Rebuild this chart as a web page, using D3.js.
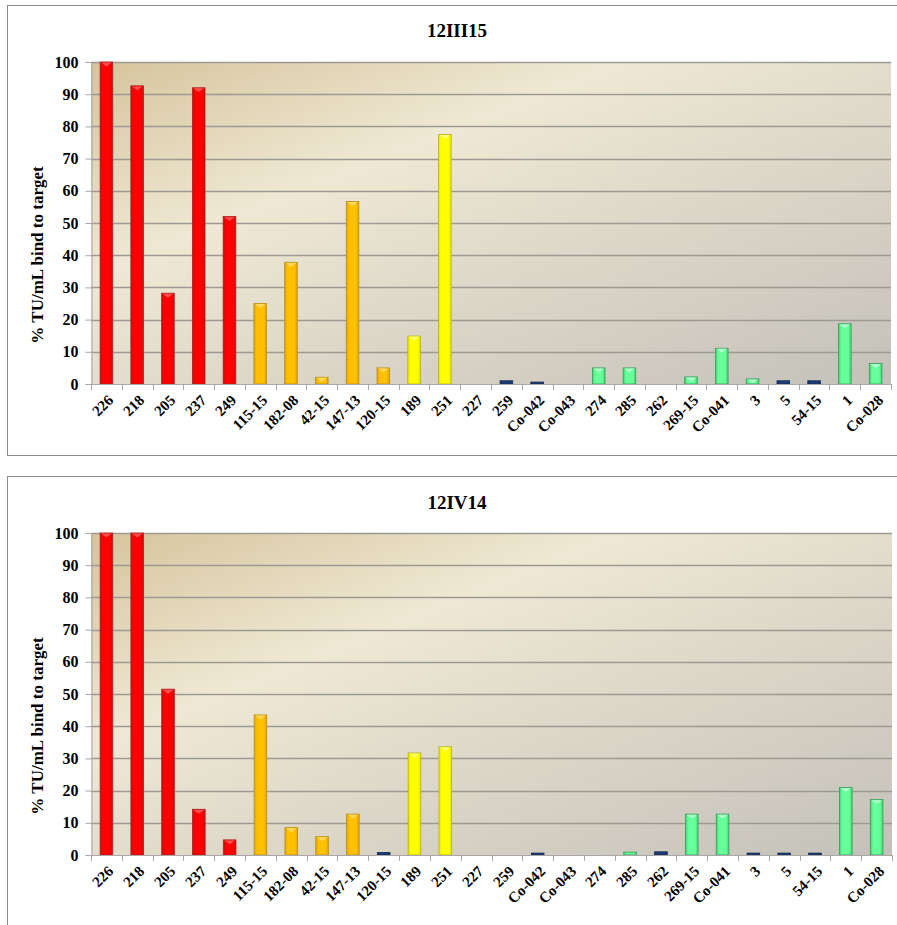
<!DOCTYPE html>
<html>
<head>
<meta charset="utf-8">
<script src="https://cdn.jsdelivr.net/npm/d3@7"></script>
<style>
  html, body { margin: 0; padding: 0; background: #ffffff; }
  #wrap { position: relative; width: 897px; height: 925px; overflow: hidden; }
  svg { display: block; position: absolute; left: 0; top: 0; }
  text { font-family: "Liberation Serif", "Times New Roman", serif; font-weight: bold; fill: #000; }
  .xlab { position: absolute; white-space: nowrap; font-family: "Liberation Serif", "Times New Roman", serif;
          font-weight: bold; font-size: 15px; line-height: 15px; color: #000;
          transform-origin: 100% 50%; transform: translate(-100%, -50%) rotate(-45deg); }
</style>
</head>
<body>
<div id="wrap"><svg id="chart" width="897" height="925"></svg></div>
<script>
// ---------------- DATA ----------------
const categories = ["226", "218", "205", "237", "249", "115-15", "182-08", "42-15", "147-13", "120-15",
  "189", "251", "227", "259", "Co-042", "Co-043", "274", "285", "262", "269-15", "Co-041",
  "3", "5", "54-15", "1", "Co-028"];

const titles = ["12III15", "12IV14"];

const values12III15 = [100, 92.6, 28.2, 92.0, 52.0, 25.0, 37.8, 2.1, 56.7, 5.0,
  14.9, 77.5, 0, 1.0, 0.6, 0, 5.0, 5.0, 0, 2.2, 11.1,
  1.6, 1.0, 1.0, 18.7, 6.4];

const groups12III15 = ["red", "red", "red", "red", "red", "orange", "orange", "orange", "orange", "orange",
  "yellow", "yellow", "blue", "blue", "blue", "blue", "green", "green", "blue", "green", "green",
  "green", "blue", "blue", "green", "green"];

const values12IV14 = [100, 100, 51.5, 14.2, 4.7, 43.5, 8.5, 5.7, 12.7, 0.8,
  31.7, 33.6, 0, 0, 0.6, 0, 0, 0.9, 1.0, 12.7, 12.7,
  0.6, 0.6, 0.6, 21.0, 17.2];

const groups12IV14 = ["red", "red", "red", "red", "red", "orange", "orange", "orange", "orange", "blue",
  "yellow", "yellow", "blue", "blue", "blue", "blue", "blue", "green", "blue", "green", "green",
  "blue", "blue", "blue", "green", "green"];

const yTicks = [0, 10, 20, 30, 40, 50, 60, 70, 80, 90, 100];
const yAxisTitle = "% TU/mL bind to target";

// ---------------- STYLES ----------------
const palette = {
  red:    { base: "#ff0000", dark: "#c41010", light: "#ff6a6a", stroke: "#b02020" },
  orange: { base: "#ffc000", dark: "#e0a000", light: "#ffe080", stroke: "#b8901a" },
  yellow: { base: "#ffff00", dark: "#e2e200", light: "#ffff99", stroke: "#b8b020" },
  green:  { base: "#66ff99", dark: "#40d070", light: "#c8ffe0", stroke: "#3a9a5a" },
  blue:   { base: "#1f3d7a", dark: "#17305f", light: "#3c5c9c", stroke: "#132850" }
};

const wrap = d3.select("#wrap");
const svg = d3.select("#chart");
const defs = svg.append("defs");

// plot background gradient
const bg = defs.append("linearGradient").attr("id", "plotBg")
  .attr("x1", 0).attr("y1", 0).attr("x2", 1).attr("y2", 1);
bg.append("stop").attr("offset", "0%").attr("stop-color", "#d6c49c");
bg.append("stop").attr("offset", "33%").attr("stop-color", "#efe8d4");
bg.append("stop").attr("offset", "60%").attr("stop-color", "#dcd7c8");
bg.append("stop").attr("offset", "100%").attr("stop-color", "#c4c1ba");

Object.entries(palette).forEach(([k, p]) => {
  const g = defs.append("linearGradient").attr("id", "bar-" + k)
    .attr("x1", 0).attr("y1", 0).attr("x2", 1).attr("y2", 0);
  g.append("stop").attr("offset", "0%").attr("stop-color", p.dark);
  g.append("stop").attr("offset", "22%").attr("stop-color", p.base);
  g.append("stop").attr("offset", "78%").attr("stop-color", p.base);
  g.append("stop").attr("offset", "100%").attr("stop-color", p.dark);
});

const charts = [
  { title: titles[0], values: values12III15, groups: groups12III15,
    frameY: 5.5, frameH: 450, titleY: 37, plot: { x0: 91, x1: 891, y0: 62, y1: 384 }, axisTitleCY: 255 },
  { title: titles[1], values: values12IV14, groups: groups12IV14,
    frameY: 476.5, frameH: 460, titleY: 509, plot: { x0: 91, x1: 892, y0: 533, y1: 855 }, axisTitleCY: 726 }
];

charts.forEach(c => {
  const g = svg.append("g");
  // frame
  g.append("rect").attr("x", 7.5).attr("y", c.frameY).attr("width", 900).attr("height", c.frameH)
    .attr("fill", "#ffffff").attr("stroke", "#8c8c8c").attr("stroke-width", 1);

  const x = d3.scaleBand().domain(categories).range([c.plot.x0, c.plot.x1])
    .paddingInner(0.59).paddingOuter(0.295);
  const y = d3.scaleLinear().domain([0, 100]).range([c.plot.y1, c.plot.y0]);

  // plot area
  g.append("rect").attr("x", c.plot.x0).attr("y", c.plot.y0)
    .attr("width", c.plot.x1 - c.plot.x0).attr("height", c.plot.y1 - c.plot.y0)
    .attr("fill", "url(#plotBg)");

  // gridlines
  g.append("g").selectAll("line").data(yTicks.filter(t => t > 0)).join("line")
    .attr("x1", c.plot.x0).attr("x2", c.plot.x1)
    .attr("y1", d => Math.round(y(d)) + 0.5).attr("y2", d => Math.round(y(d)) + 0.5)
    .attr("stroke", "#9d9a94").attr("stroke-width", 1.3);

  // y axis
  const yAxis = d3.axisLeft(y).tickValues(yTicks).tickSize(6).tickPadding(7).tickFormat(d3.format("d"));
  const ya = g.append("g").attr("transform", `translate(${c.plot.x0 + 0.5},0)`).call(yAxis);
  ya.select(".domain").attr("stroke", "#a8a8a8");
  ya.selectAll(".tick line").attr("stroke", "#a8a8a8");
  ya.selectAll(".tick text").style("font-size", "16px").style("font-family", "Liberation Serif, serif")
    .style("font-weight", "bold").attr("fill", "#000");

  // bars
  const bars = g.append("g");
  const data = categories.map((cat, i) => ({ cat, v: c.values[i], grp: c.groups[i] })).filter(d => d.v > 0);
  bars.selectAll("rect").data(data).join("rect")
    .attr("x", d => x(d.cat))
    .attr("y", d => y(d.v))
    .attr("width", x.bandwidth())
    .attr("height", d => y(0) - y(d.v))
    .attr("fill", d => `url(#bar-${d.grp})`)
    .attr("stroke", d => palette[d.grp].stroke)
    .attr("stroke-width", 0.8);
  // bevel highlight at top
  bars.selectAll("path").data(data.filter(d => y(0) - y(d.v) > 5)).join("path")
    .attr("d", d => {
      const x0 = x(d.cat), w = x.bandwidth(), t = y(d.v);
      return `M${x0 + 1},${t + 0.6} L${x0 + w - 1},${t + 0.6} L${x0 + w / 2},${t + 4.5} Z`;
    })
    .attr("fill", d => palette[d.grp].light).attr("opacity", 0.75);

  // x axis
  const xAxisLine = g.append("g");
  xAxisLine.append("line").attr("x1", c.plot.x0).attr("x2", c.plot.x1)
    .attr("y1", c.plot.y1 + 0.5).attr("y2", c.plot.y1 + 0.5).attr("stroke", "#a8a8a8");
  const boundaries = d3.range(categories.length + 1);
  xAxisLine.selectAll("line.tk").data(boundaries).join("line").attr("class", "tk")
    .attr("x1", i => Math.round(c.plot.x0 + i * x.step()) + 0.5)
    .attr("x2", i => Math.round(c.plot.x0 + i * x.step()) + 0.5)
    .attr("y1", c.plot.y1).attr("y2", c.plot.y1 + 6).attr("stroke", "#a8a8a8");

  // rotated category labels (-45 degrees), HTML overlay
  wrap.selectAll(null).data(categories).enter().append("div")
    .attr("class", "xlab")
    .style("left", d => (x(d) + x.bandwidth() / 2 + 5) + "px")
    .style("top", (c.plot.y1 + 14) + "px")
    .text(d => d);

  // title
  g.append("text").attr("x", 457).attr("y", c.titleY).attr("text-anchor", "middle")
    .style("font-size", "19px").text(c.title);

  // y axis title
  g.append("text").attr("transform", `translate(43,${c.axisTitleCY}) rotate(-90)`)
    .attr("text-anchor", "middle").style("font-size", "17px").text(yAxisTitle);
});
</script>
</body>
</html>
